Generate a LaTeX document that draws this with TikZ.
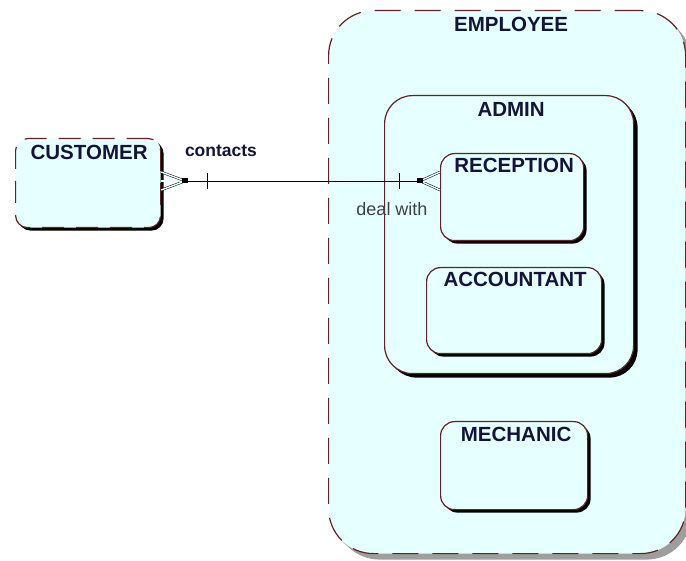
\documentclass[tikz,border=0pt]{standalone}
\usepackage{fontspec}
\setmainfont{Liberation Sans}
\usetikzlibrary{shadows}
\definecolor{bord}{HTML}{5E2424}
\definecolor{fillc}{HTML}{E6FFFF}
\definecolor{txt}{HTML}{14143A}
\tikzset{
  ent/.style={draw=bord, fill=fillc, line width=1.2pt, inner sep=0pt, anchor=north west,
    drop shadow={shadow xshift=3pt, shadow yshift=-3pt, fill=black, opacity=1}},
  entname/.style={font=\fontsize{20.5}{20.5}\selectfont\bfseries, text=txt, inner sep=0pt, anchor=north},
  rel/.style={line width=0.9pt, black},
  prong/.style={line width=0.5pt, double=fillc, double distance=1.4pt},
  lbl/.style={inner sep=0pt}
}
\begin{document}
\begin{tikzpicture}[x=1pt, y=-1pt]
\useasboundingbox (0,0) rectangle (686,561);
% EMPLOYEE
\node[ent, dash pattern=on 26pt off 14pt, rounded corners=45pt, minimum width=357pt, minimum height=543pt,
  drop shadow={shadow xshift=6pt, shadow yshift=-6pt, fill=black!38, opacity=1}] (employee) at (328,10) {};
\node[entname] (employeet) at ([xshift=4pt,yshift=-7pt]employee.north) {EMPLOYEE};
% ADMIN
\node[ent, rounded corners=28pt, minimum width=249pt, minimum height=278pt,
  drop shadow={shadow xshift=4pt, shadow yshift=-4pt, fill=black, opacity=1}] (admin) at (384,95) {};
\node[entname] (admint) at ([xshift=2pt,yshift=-7pt]admin.north) {ADMIN};
% RECEPTION
\node[ent, rounded corners=14pt, minimum width=143pt, minimum height=87pt] (reception) at (440,153) {};
\node[entname] (receptiont) at ([xshift=2pt,yshift=-5pt]reception.north) {RECEPTION};
% ACCOUNTANT
\node[ent, rounded corners=14pt, minimum width=175pt, minimum height=86pt] (accountant) at (426,267) {};
\node[entname] (accountantt) at ([xshift=1pt,yshift=-5pt]accountant.north) {ACCOUNTANT};
% MECHANIC
\node[ent, rounded corners=14pt, minimum width=147pt, minimum height=88pt] (mechanic) at (440,421) {};
\node[entname] (mechanict) at ([xshift=2pt,yshift=-6pt]mechanic.north) {MECHANIC};
% CUSTOMER
\node[ent, dash pattern=on 22pt off 12pt, rounded corners=12pt, minimum width=145pt, minimum height=89pt,
  drop shadow={shadow xshift=2pt, shadow yshift=-2pt, fill=black, opacity=1}] (customer) at (15,138) {};
\node[entname] (customert) at ([xshift=1pt,yshift=-7pt]customer.north) {CUSTOMER};
% relationship
\coordinate (ca) at (customer.east |- 0,181);
\coordinate (ra) at (reception.west |- 0,181);
\coordinate (cj) at ([xshift=24pt]ca);
\coordinate (rj) at ([xshift=-20pt]ra);
\draw[rel] (cj) -- (rj);
% crow's foot at customer
\draw[prong] (cj) -- ([yshift=-9pt]ca);
\draw[prong] (cj) -- (ca);
\draw[prong] (cj) -- ([yshift=9pt]ca);
\fill[black] ([xshift=-3pt,yshift=-2.5pt]cj) rectangle ([xshift=3pt,yshift=2.5pt]cj);
\draw[line width=1pt] ([xshift=46pt,yshift=-8pt]ca) -- ([xshift=46pt,yshift=8pt]ca);
% crow's foot at reception
\draw[prong] (rj) -- ([yshift=-9pt]ra);
\draw[prong] (rj) -- (ra);
\draw[prong] (rj) -- ([yshift=9pt]ra);
\fill[black] ([xshift=-3pt,yshift=-2.5pt]rj) rectangle ([xshift=3pt,yshift=2.5pt]rj);
\draw[line width=1pt] ([xshift=-41pt,yshift=-8pt]ra) -- ([xshift=-41pt,yshift=8pt]ra);
% labels
\node[lbl, font=\fontsize{17.5}{17.5}\selectfont\bfseries, text=txt] (contacts) at (221,151) {contacts};
\node[lbl, font=\fontsize{18}{18}\selectfont, text=black!75] (dealwith) at (392,209) {deal with};
\end{tikzpicture}
\end{document}
